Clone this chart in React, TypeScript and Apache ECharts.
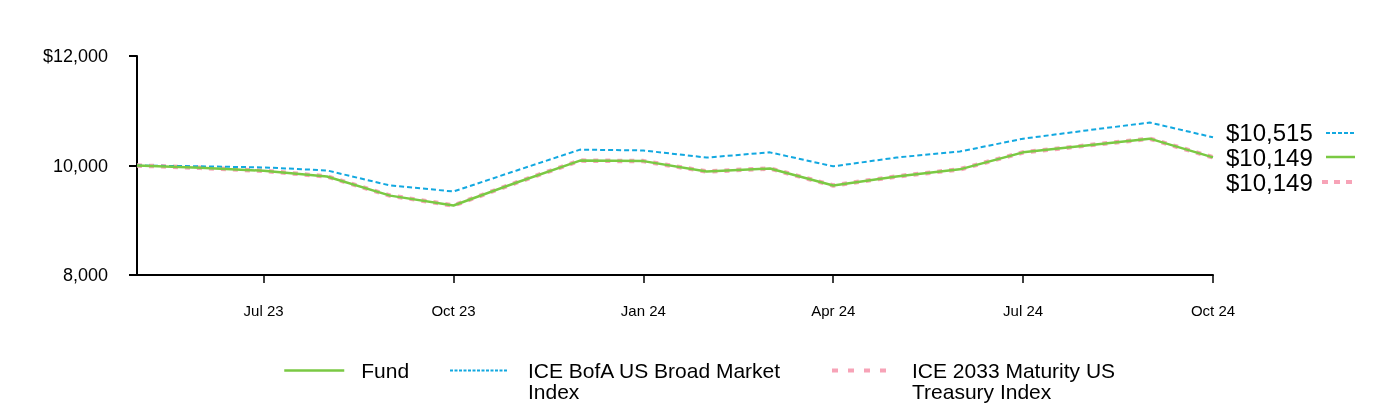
import React, { useEffect, useRef } from "react";
import * as echarts from "echarts";

const months = ["May 23", "Jun 23", "Jul 23", "Aug 23", "Sep 23", "Oct 23", "Nov 23", "Dec 23", "Jan 24", "Feb 24", "Mar 24", "Apr 24", "May 24", "Jun 24", "Jul 24", "Aug 24", "Sep 24", "Oct 24"];
const fundValues = [10000, 9958, 9903, 9800, 9450, 9270, 9690, 10090, 10080, 9890, 9945, 9635, 9800, 9930, 10240, 10365, 10490, 10149];
const broadValues = [10000, 9985, 9965, 9910, 9635, 9525, 9910, 10290, 10275, 10145, 10240, 9985, 10145, 10255, 10490, 10640, 10785, 10515];
const treasuryValues = [10000, 9958, 9903, 9800, 9450, 9270, 9690, 10090, 10080, 9890, 9945, 9635, 9800, 9930, 10240, 10365, 10490, 10149];

const FUND = "Fund";
const BROAD = "ICE BofA US Broad Market Index";
const TREAS = "ICE 2033 Maturity US Treasury Index";
const wrapped: Record<string, string> = {
  [FUND]: "Fund",
  [BROAD]: "\nICE BofA US Broad Market\nIndex",
  [TREAS]: "\nICE 2033 Maturity US\nTreasury Index",
};

const GREEN = "#7ac943";
const BLUE = "#12a8e0";
const PINK = "#f7a3b7";
const FONT = "Arial, 'Liberation Sans', sans-serif";

const fmtMoney = (v: number) => "$" + v.toLocaleString("en-US");

export default function App() {
  const ref = useRef<HTMLDivElement>(null);
  useEffect(() => {
    const chart = echarts.init(ref.current!, null, { renderer: "svg" });
    const endLabel = (off: number[]) => ({
      show: true,
      distance: 13,
      offset: off,
      fontSize: 24,
      color: "#000",
      fontFamily: FONT,
      formatter: (p: any) => fmtMoney(p.value),
    });
    const legendBase = (name: string, left: number, top: number, w: number, padL: number, lineStyle: any) => ({
      data: [name],
      left,
      top,
      padding: 0,
      itemWidth: w,
      itemHeight: 14,
      formatter: (n: string) => wrapped[n],
      itemStyle: { color: "transparent", borderWidth: 0, borderColor: "transparent" },
      lineStyle,
      textStyle: {
        fontSize: 21,
        fontFamily: FONT,
        color: "#000",
        lineHeight: 21,
        padding: [0, 0, 0, padL],
      },
    });
    chart.setOption({
      animation: false,
      textStyle: { fontFamily: FONT },
      grid: { left: 137, right: 183, top: 56, bottom: 137 },
      legend: [
        legendBase(FUND, 283, 360, 60, 12, { color: GREEN, width: 2.5, type: "solid" }),
        legendBase(BROAD, 449, 339, 58, 15, { color: BLUE, width: 2, type: [3, 1.5] }),
        legendBase(TREAS, 830, 339, 56, 19, { color: PINK, width: 4, type: [6, 10] }),
      ],
      xAxis: {
        type: "category",
        data: months,
        boundaryGap: false,
        axisLine: { lineStyle: { color: "#000", width: 2 } },
        axisTick: {
          show: true,
          length: 8,
          interval: (i: number) => i % 3 === 2,
          lineStyle: { color: "#000", width: 1.5 },
        },
        axisLabel: {
          interval: (i: number) => i % 3 === 2,
          margin: 28,
          fontSize: 15,
          color: "#000",
          fontFamily: FONT,
        },
        splitLine: { show: false },
      },
      yAxis: {
        type: "value",
        min: 8000,
        max: 12000,
        interval: 2000,
        axisLine: { show: true, lineStyle: { color: "#000", width: 2 } },
        axisTick: { show: true, length: 8, lineStyle: { color: "#000", width: 2 } },
        axisLabel: {
          margin: 29,
          fontSize: 18,
          color: "#000",
          fontFamily: FONT,
          formatter: (v: number) => (v === 12000 ? "$" : "") + v.toLocaleString("en-US"),
        },
        splitLine: { show: false },
      },
      series: [
        {
          name: TREAS,
          type: "line",
          data: treasuryValues,
          symbol: "none",
          lineStyle: { color: PINK, width: 4.5, type: [5, 7] },
          itemStyle: { color: PINK },
          endLabel: endLabel([0, 25]),
        },
        {
          name: BROAD,
          type: "line",
          data: broadValues,
          symbol: "none",
          lineStyle: { color: BLUE, width: 2, type: [5, 3] },
          itemStyle: { color: BLUE },
          endLabel: endLabel([0, -5]),
        },
        {
          name: FUND,
          type: "line",
          data: fundValues,
          symbol: "none",
          lineStyle: { color: GREEN, width: 2.5 },
          itemStyle: { color: GREEN },
          endLabel: endLabel([0, 0]),
        },
      ],
      graphic: [
        { type: "line", shape: { x1: 1326, y1: 133, x2: 1354, y2: 133 }, style: { stroke: BLUE, lineWidth: 2, lineDash: [4, 2] } },
        { type: "line", shape: { x1: 1326, y1: 157, x2: 1355, y2: 157 }, style: { stroke: GREEN, lineWidth: 2.5 } },
        { type: "line", shape: { x1: 1322, y1: 182, x2: 1356, y2: 182 }, style: { stroke: PINK, lineWidth: 4, lineDash: [6, 6] } },
      ],
    });
    return () => chart.dispose();
  }, []);
  return <div ref={ref} style={{ position: "fixed", left: 0, top: 0, width: 1396, height: 412 }} />;
}
